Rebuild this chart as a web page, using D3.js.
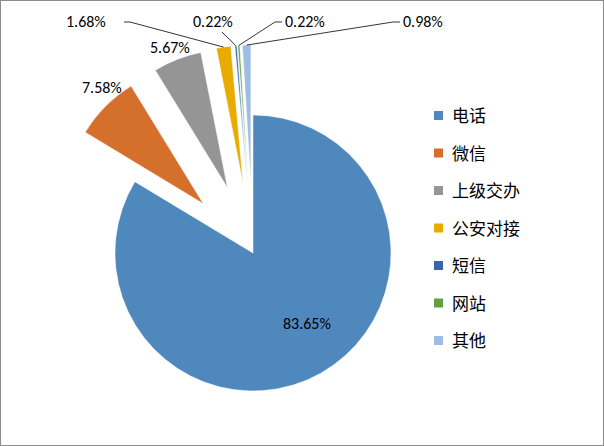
<!DOCTYPE html>
<html><head><meta charset="utf-8">
<script src="https://cdn.jsdelivr.net/npm/d3@7"></script>
<style>body{margin:0;background:#fff}text{font-family:Calibri,"Liberation Sans","Noto Sans CJK SC",sans-serif}</style>
</head><body>
<svg id="chart" width="604" height="446"></svg>
<script>
const categories = ["电话", "微信", "上级交办", "公安对接", "短信", "网站", "其他"];
const values = [83.65, 7.58, 5.67, 1.68, 0.22, 0.22, 0.98];
const labels = ["83.65%", "7.58%", "5.67%", "1.68%", "0.22%", "0.22%", "0.98%"];
const colors = ["#4f88bd", "#d4702c", "#959595", "#e8ab00", "#3a64ae", "#62a13f", "#9dbde3"];
// label anchors (text start) and whether a leader line is drawn
const labelPos = [[283, 329], [82, 93], [150, 53], [66, 27], [193, 27], [285, 27], [403, 27]];
const leader = [false, false, false, true, true, true, true];

const svg = d3.select("#chart");
svg.append("rect").attr("x", 0.5).attr("y", 0.5).attr("width", 603).attr("height", 445)
  .attr("fill", "#fff").attr("stroke", "#8c8c8c");

const cx = 253, cy = 253, r = 138, explode = 70;
const pie = d3.pie().sort(null).value(d => d);
const arcs = pie(values);
const arc = d3.arc().innerRadius(0).outerRadius(r);
const g = svg.append("g").attr("transform", `translate(${cx},${cy})`);

arcs.forEach((a, i) => {
  const mid = (a.startAngle + a.endAngle) / 2;
  const off = i === 0 ? 0 : explode;
  const dx = Math.sin(mid) * off, dy = -Math.cos(mid) * off;
  g.append("path").attr("d", arc(a)).attr("fill", colors[i])
    .attr("stroke", "#fff").attr("stroke-width", 0.5)
    .attr("transform", `translate(${dx},${dy})`);
  const [lx, ly] = labelPos[i];
  const t = svg.append("text").attr("x", lx).attr("y", ly).attr("font-size", 16)
    .attr("fill", "#000").text(labels[i]);
  if (leader[i]) {
    const ex = cx + Math.sin(mid) * (off + r), ey = cy - Math.cos(mid) * (off + r);
    let pts;
    if (i === 3) pts = [[lx + 58, ly - 5], [lx + 64, ly - 5], [ex, ey]];
    else if (i === 4) pts = [[lx + 29, ly + 5], [ex, ey]];
    else pts = [[lx - 3, ly - 5], [lx - 10, ly - 5], [ex, ey]];
    svg.append("polyline").attr("points", pts.map(p => p.join(",")).join(" "))
      .attr("fill", "none").attr("stroke", "#000").attr("stroke-width", 0.8);
  }
});

const legend = svg.append("g");
const ly = d3.scalePoint().domain(categories).range([115, 340]);
categories.forEach((c, i) => {
  legend.append("rect").attr("x", 434).attr("y", ly(c) - 4).attr("width", 9).attr("height", 9).attr("fill", colors[i]);
  legend.append("text").attr("x", 452).attr("y", ly(c) + 7).attr("font-size", 17).text(c);
});
</script>
</body></html>
